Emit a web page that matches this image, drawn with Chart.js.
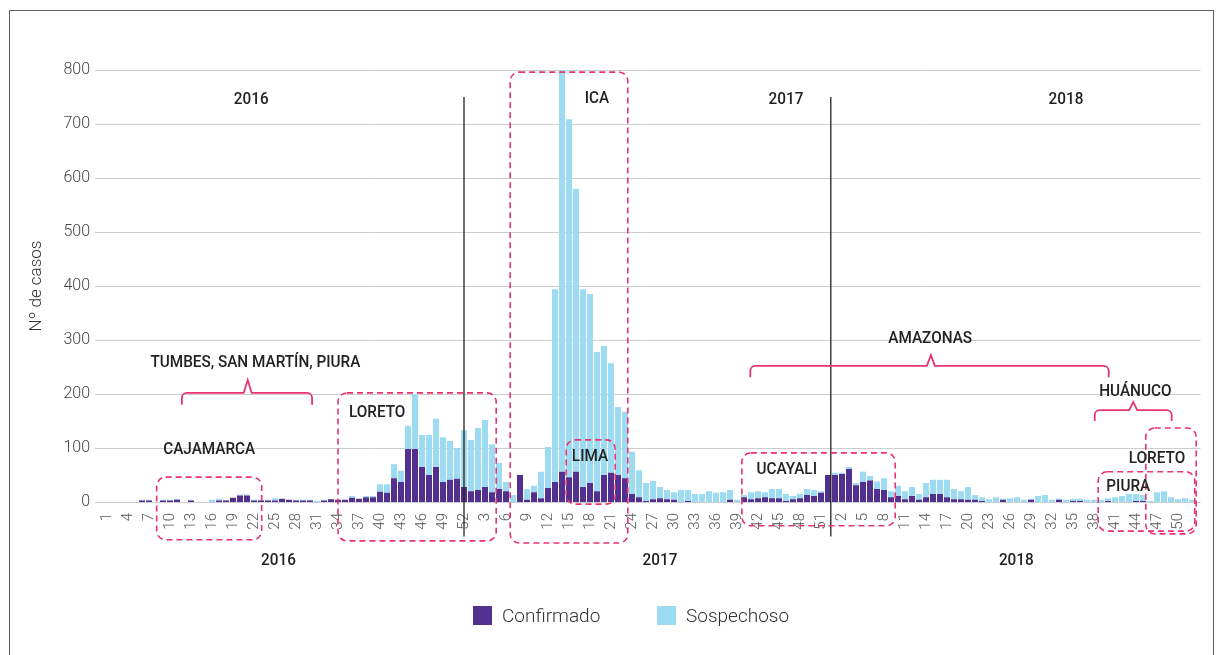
<!DOCTYPE html>
<html>
<head>
<meta charset="utf-8">
<script src="https://cdn.jsdelivr.net/npm/chart.js@4.4.1/dist/chart.umd.min.js"></script>
<style>
html, body { margin: 0; padding: 0; background: #fff; }
#wrap { position: absolute; left: 0; top: 0; width: 1223px; height: 655px; }
#frame { position: absolute; left: 9px; top: 10px; width: 1205px; height: 700px; border: 1.5px solid #5e5e5e; box-sizing: border-box; }
.leg { position: absolute; top: 605px; font-family: Roboto, sans-serif; font-weight: 300; font-size: 19px; color: #333; line-height: 22px; }
.leg span { display: inline-block; width: 19px; height: 19px; vertical-align: -3px; margin-right: 10px; }
</style>
</head>
<body>
<div id="frame"></div>
<div id="wrap"><canvas id="chart_casos"></canvas></div>
<div class="leg" style="left:473px"><span style="background:#52308f"></span>Confirmado</div>
<div class="leg" style="left:657px"><span style="background:#9cdbf2"></span>Sospechoso</div>
<script>
const years = [2016, 2017, 2018];
const weeksPerYear = [52, 52, 52];

// casos por semana epidemiologica
const conf2016 = [0,0,0,0,0,3,3,0,3,3,4,0,3,0,0,0,3,3,8,12,12,3,3,3,3,6,4,3,3,3,0,3,5,4,4,8,6,9,9,19,17,44,37,98,98,65,50,65,37,41,43,28];
const susp2016 = [0,0,0,0,0,1,1,0,1,1,2,0,1,0,0,4,3,1,0,2,2,1,1,1,4,0,0,1,1,1,2,1,0,0,0,3,0,2,2,14,16,26,21,43,102,59,74,89,83,72,57,105];
const conf2017 = [20,22,28,18,24,20,0,50,4,18,7,26,37,56,46,56,28,35,20,50,54,50,44,15,9,2,5,7,5,4,0,2,0,0,0,0,0,4,0,9,5,7,9,7,7,2,5,7,13,11,17,50];
const susp2017 = [95,115,124,89,48,17,13,0,20,12,49,76,357,744,663,524,366,350,258,239,203,126,123,78,50,33,34,21,17,14,22,20,15,15,20,17,18,18,4,4,13,13,9,17,17,13,6,8,11,11,3,0];
const conf2018 = [50,52,61,31,37,40,24,22,9,11,5,11,4,9,15,15,9,5,5,4,4,2,0,0,4,0,0,0,4,0,0,0,4,0,2,2,0,0,0,2,0,0,0,2,2,0,0,0,0,0,0,0];
const susp2018 = [4,2,4,4,19,8,14,22,11,19,15,17,11,26,26,26,32,19,15,24,9,7,5,9,2,7,9,4,2,11,13,4,2,4,4,4,4,4,4,5,9,11,15,13,11,2,18,20,9,5,7,4];

const yTicks = [0, 100, 200, 300, 400, 500, 600, 700, 800];

// etiquetas de departamentos: [texto, semana (indice), valor]
const regionLabels = [
    ['TUMBES, SAN MARTÍN, PIURA', 21.2, 257],
    ['CAJAMARCA', 14.6, 96],
    ['LORETO', 38.6, 165],
    ['ICA', 70, 746],
    ['LIMA', 69, 83],
    ['UCAYALI', 97.1, 59],
    ['AMAZONAS', 117.6, 302],
    ['HUÁNUCO', 146.9, 204],
    ['LORETO', 150, 80],
    ['PIURA', 145.9, 28]
];
// recuadros: [desde, hasta, valor arriba, valor abajo]
const regionBoxes = [
    [7.1, 22.1, 46, -70],
    [33, 55.6, 202, -72],
    [57.6, 74.4, 796, -76],
    [65.6, 72.6, 115, -4],
    [90.7, 112.6, 91, -44],
    [141.6, 155.4, 56, -54],
    [148.4, 155.6, 137, -59]
];
// llaves: [desde, hasta, pico, valor base, valor gancho, valor pico]
const regionBraces = [
    [10.7, 29.3, 20.1, 202, 180, 226],
    [91.9, 143.1, 117.7, 252, 231, 272],
    [141.1, 152.1, 146.6, 170, 150, 185]
];
const yearTop = [['2016', 20.6], ['2017', 97], ['2018', 137]];
const yearBottom = [['2016', 24.5], ['2017', 79], ['2018', 129.9]];
const yearLines = [51, 103.4];

let labels = []; let confirmado = []; let sospechoso = [];
const confByYear = [conf2016, conf2017, conf2018];
const suspByYear = [susp2016, susp2017, susp2018];
for (let y = 0; y < years.length; y++) {
    for (let w = 1; w <= weeksPerYear[y]; w++) {
        labels.push(String(w));
    }
    confirmado = confirmado.concat(confByYear[y]);
    sospechoso = sospechoso.concat(suspByYear[y]);
}

const pink = '#e9336f';

const roundRect = (ctx, x, y, w, h, r) => {
    ctx.beginPath();
    ctx.moveTo(x + r, y);
    ctx.lineTo(x + w - r, y);
    ctx.arcTo(x + w, y, x + w, y + r, r);
    ctx.lineTo(x + w, y + h - r);
    ctx.arcTo(x + w, y + h, x + w - r, y + h, r);
    ctx.lineTo(x + r, y + h);
    ctx.arcTo(x, y + h, x, y + h - r, r);
    ctx.lineTo(x, y + r);
    ctx.arcTo(x, y, x + r, y, r);
    ctx.closePath();
}

// texto un poco condensado, como la fuente original
const narrowText = (ctx, text, px, py) => {
    ctx.save();
    ctx.translate(px, py);
    ctx.scale(0.9, 1);
    ctx.fillText(text, 0, 0);
    ctx.restore();
}

const gridPlugin = {
    id: 'gridLines',
    beforeDatasetsDraw(chart) {
        const {ctx, chartArea, scales: {y}} = chart;
        ctx.save();
        ctx.strokeStyle = '#cdcdcd';
        ctx.lineWidth = 1;
        for (let v of yTicks) {
            const py = Math.round(y.getPixelForValue(v)) + 0.5;
            ctx.beginPath();
            ctx.moveTo(chartArea.left - 8.5, py);
            ctx.lineTo(chartArea.right + 5, py);
            ctx.stroke();
        }
        ctx.restore();
    }
}

const notesPlugin = {
    id: 'notes',
    afterDatasetsDraw(chart) {
        const {ctx, scales: {x, y}} = chart;
        ctx.save();

        // lineas de cambio de año
        ctx.strokeStyle = '#222';
        ctx.lineWidth = 1.3;
        for (let l of yearLines) {
            const px = x.getPixelForValue(l);
            ctx.beginPath();
            ctx.moveTo(px, y.getPixelForValue(750));
            ctx.lineTo(px, y.getPixelForValue(-64));
            ctx.stroke();
        }

        ctx.strokeStyle = pink;
        ctx.lineWidth = 1.6;
        ctx.setLineDash([6, 4]);
        for (let b of regionBoxes) {
            const x1 = x.getPixelForValue(b[0]); const x2 = x.getPixelForValue(b[1]);
            const y1 = y.getPixelForValue(b[2]); const y2 = y.getPixelForValue(b[3]);
            roundRect(ctx, x1, y1, x2 - x1, y2 - y1, 9);
            ctx.stroke();
        }

        ctx.setLineDash([]);
        ctx.lineWidth = 1.8;
        for (let b of regionBraces) {
            const x1 = x.getPixelForValue(b[0]); const x2 = x.getPixelForValue(b[1]);
            const xm = x.getPixelForValue(b[2]);
            const yb = y.getPixelForValue(b[3]); const yh = y.getPixelForValue(b[4]);
            const yp = y.getPixelForValue(b[5]);
            const r = 5;
            ctx.beginPath();
            ctx.moveTo(x1, yh);
            ctx.lineTo(x1, yb + r);
            ctx.arcTo(x1, yb, x1 + r, yb, r);
            ctx.lineTo(xm - 4, yb);
            ctx.lineTo(xm, yp);
            ctx.lineTo(xm + 4, yb);
            ctx.lineTo(x2 - r, yb);
            ctx.arcTo(x2, yb, x2, yb + r, r);
            ctx.lineTo(x2, yh);
            ctx.stroke();
        }

        ctx.fillStyle = '#222';
        ctx.textAlign = 'center';
        ctx.textBaseline = 'middle';
        ctx.font = '500 17px Roboto';
        for (let t of regionLabels) {
            narrowText(ctx, t[0], x.getPixelForValue(t[1]), y.getPixelForValue(t[2]));
        }
        for (let t of yearTop) {
            narrowText(ctx, t[0], x.getPixelForValue(t[1]), y.getPixelForValue(744));
        }
        for (let t of yearBottom) {
            narrowText(ctx, t[0], x.getPixelForValue(t[1]), y.getPixelForValue(-108));
        }
        ctx.restore();
    }
}

const data = {
    labels: labels,
    datasets: [{
        label: 'Confirmado',
        data: confirmado,
        backgroundColor: '#52308f',
        barPercentage: 0.86,
        categoryPercentage: 1
    }, {
        label: 'Sospechoso',
        data: sospechoso,
        backgroundColor: '#9cdbf2',
        barPercentage: 0.86,
        categoryPercentage: 1
    }]
};

const config = {
    type: 'bar',
    data: data,
    options: {
        responsive: false,
        animation: false,
        layout: { padding: { left: 16, right: 27.5, top: 70, bottom: 0 } },
        plugins: { legend: { display: false }, tooltip: { enabled: false } },
        scales: {
            x: {
                stacked: true,
                grid: { display: false, drawTicks: false },
                border: { display: false },
                ticks: {
                    autoSkip: false,
                    maxRotation: 90,
                    minRotation: 90,
                    padding: 11,
                    color: '#555',
                    font: { family: 'Roboto', weight: 300, size: 15 },
                    callback: (val, index) => index % 3 === 0 ? labels[index] : ''
                },
                afterFit: (scale) => { scale.height = 153; }
            },
            y: {
                stacked: true,
                min: 0,
                max: 800,
                grid: { display: false, drawTicks: false },
                border: { display: false },
                ticks: {
                    stepSize: 100,
                    padding: 13.5,
                    color: '#444',
                    font: { family: 'Roboto', weight: 300, size: 16 }
                },
                title: {
                    display: true,
                    text: 'Nº de casos',
                    color: '#333',
                    padding: { top: 11, bottom: 0 },
                    font: { family: 'Roboto', weight: 300, size: 17 }
                },
                afterFit: (scale) => { scale.width = 87.5; }
            }
        }
    },
    plugins: [gridPlugin, notesPlugin]
};

const canvas = document.getElementById('chart_casos');
canvas.width = 1223; canvas.height = 655;
const myChart = new Chart(canvas, config);
</script>
</body>
</html>
